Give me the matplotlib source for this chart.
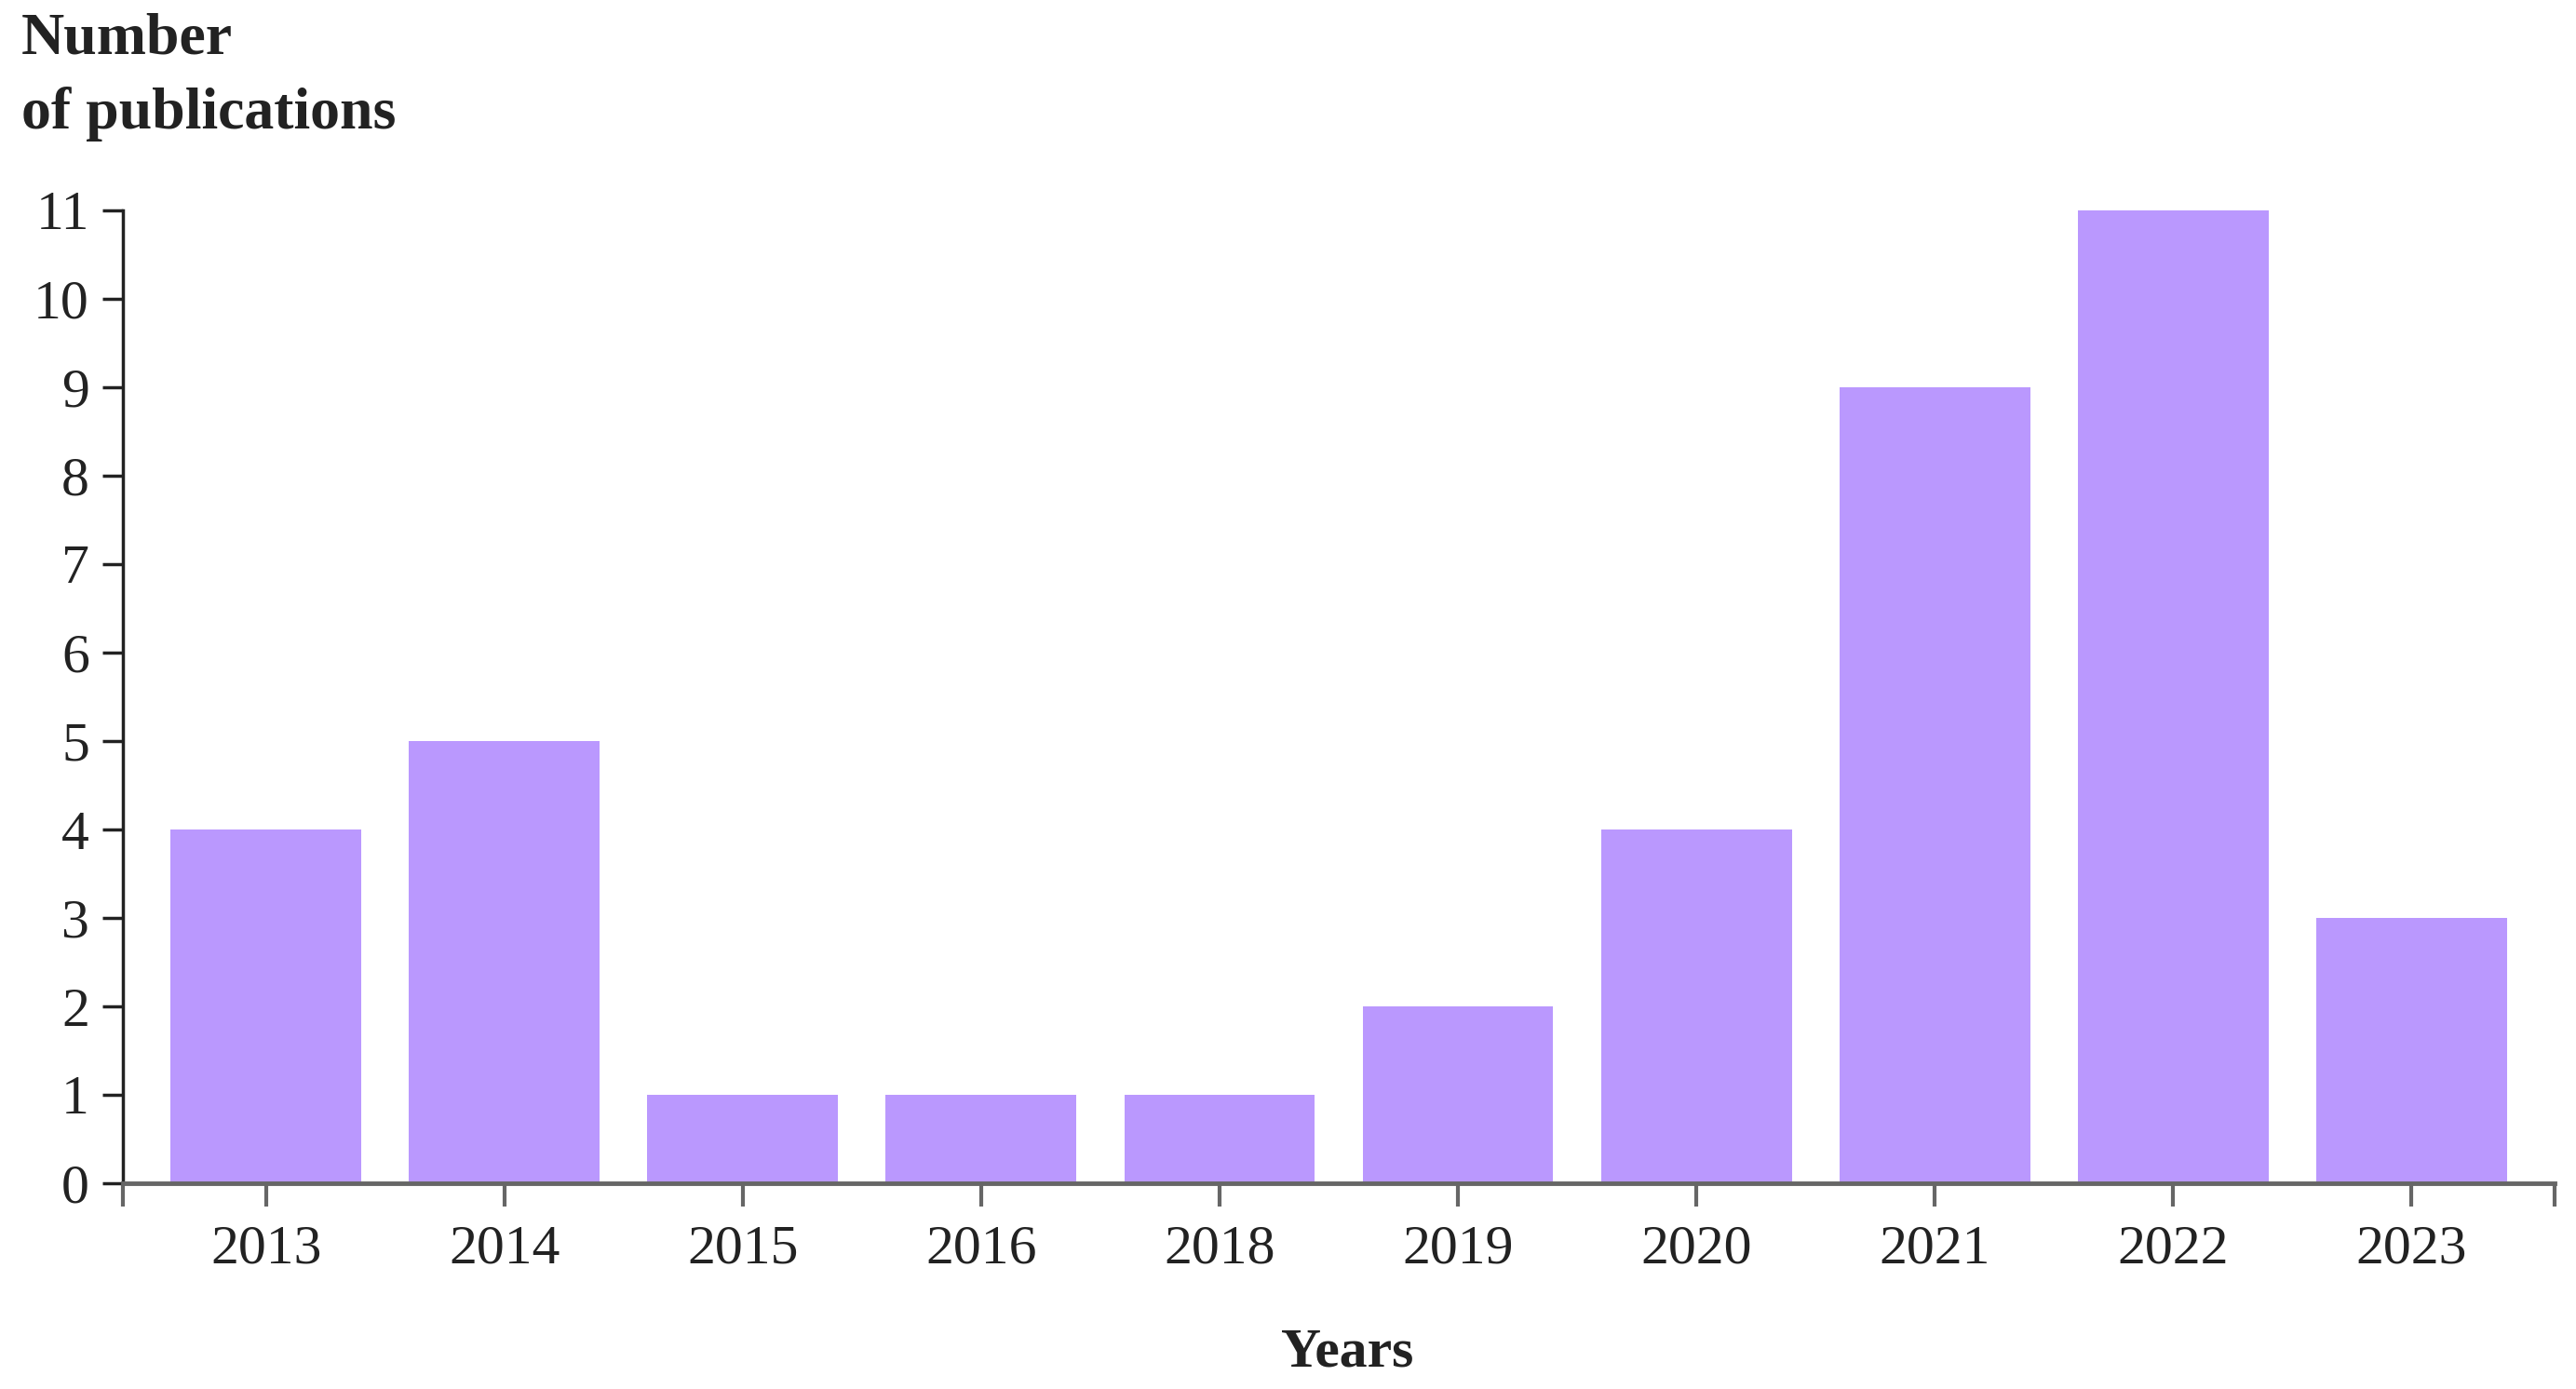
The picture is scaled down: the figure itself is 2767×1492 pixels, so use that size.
import matplotlib
matplotlib.use("Agg")
import matplotlib.pyplot as plt

years = ["2013", "2014", "2015", "2016", "2018", "2019", "2020", "2021", "2022", "2023"]
counts = [4, 5, 1, 1, 1, 2, 4, 9, 11, 3]
yticks = list(range(0, 12))

plt.rcParams['font.family'] = ['Liberation Serif', 'DejaVu Serif']
W, H = 2767, 1492
dpi = 100
fig = plt.figure(figsize=(W / dpi, H / dpi), dpi=dpi)
ax = fig.add_axes([132 / W, 1 - 1271 / H, (2744 - 132) / W, (1271 - 226) / H])

x = list(range(len(years)))
ax.bar(x, counts, width=0.8, color="#BA98FE", zorder=2)

ax.set_xlim(-0.6, len(years) - 0.4)
ax.set_ylim(0, 11)

for s in ("top", "right"):
    ax.spines[s].set_visible(False)
ax.spines["bottom"].set_color("#666666")
ax.spines["bottom"].set_linewidth(3.5)
ax.spines["bottom"].set_zorder(3)
ax.spines["left"].set_color("#222222")
ax.spines["left"].set_linewidth(2.5)

xt = [-0.6] + x + [len(years) - 0.4]
ax.set_xticks(xt)
ax.set_xticklabels([""] + years + [""])
ax.set_yticks(yticks)
ax.set_yticklabels([str(v) for v in yticks])

ax.tick_params(axis="x", direction="out", length=18, width=3, color="#666666",
               labelsize=43, labelcolor="#222222", pad=14)
ax.tick_params(axis="y", direction="out", length=16, width=2.5, color="#222222",
               labelsize=43, labelcolor="#222222", pad=10)

fig.text(23 / W, 1 - 58 / H, "Number", ha="left", va="baseline",
         fontsize=46, fontweight="bold", color="#222222")
fig.text(23 / W, 1 - 138 / H, "of publications", ha="left", va="baseline",
         fontsize=46, fontweight="bold", color="#222222")
fig.text(1447 / W, 1 - 1468 / H, "Years", ha="center", va="baseline",
         fontsize=43, fontweight="bold", color="#222222")

fig.savefig("out.png", dpi=dpi)
